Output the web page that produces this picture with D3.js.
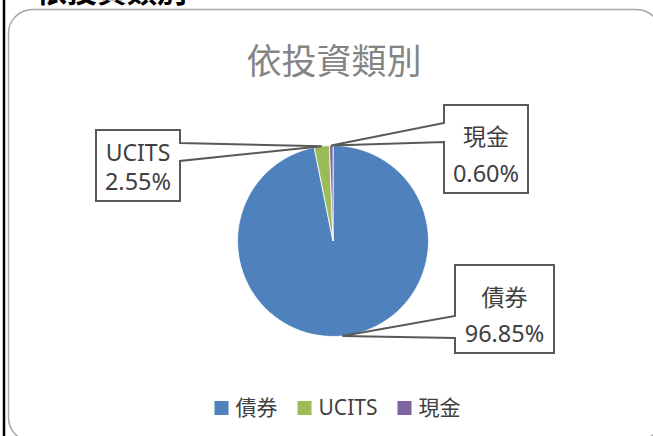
<!DOCTYPE html>
<html>
<head>
<meta charset="utf-8">
<script src="https://cdn.jsdelivr.net/npm/d3@7"></script>
<style>
  body { margin: 0; background: #fff; }
  svg { display: block; font-family: "Noto Sans", "Noto Sans CJK TC", sans-serif; }
</style>
</head>
<body>
<svg id="chart" width="653" height="436"></svg>
<script>
// Data
const categories = ["債券", "UCITS", "現金"];
const shares = [96.85, 2.55, 0.60];
const valueLabels = ["96.85%", "2.55%", "0.60%"];
const colors = ["#4F81BD", "#9BBB59", "#8064A2"];
const chartTitle = "依投資類別";

const svg = d3.select("#chart");
const width = 653, height = 436;
const cx = 333, cy = 241, radius = 95.5;

// left page border + cut-off heading above the chart
svg.append("line")
  .attr("x1", 4).attr("x2", 4).attr("y1", 0).attr("y2", height)
  .attr("stroke", "#000").attr("stroke-width", 2.5);
svg.append("text")
  .attr("x", 37).attr("y", 2)
  .attr("font-size", 30).attr("font-weight", "bold")
  .attr("fill", "#000")
  .text(chartTitle);

// chart area
svg.append("rect")
  .attr("x", 8.5).attr("y", 9.5)
  .attr("width", 652).attr("height", 432)
  .attr("rx", 24)
  .attr("fill", "#fff")
  .attr("stroke", "#a6a6a6").attr("stroke-width", 1.5);

svg.append("text")
  .attr("x", 334).attr("y", 74)
  .attr("text-anchor", "middle")
  .attr("font-size", 35)
  .attr("fill", "#848484")
  .text(chartTitle);

// pie
const data = categories.map((c, i) => ({ name: c, value: shares[i], label: valueLabels[i], color: colors[i] }));
const pie = d3.pie().sort(null).value(d => d.value);
const arcs = pie(data);
const arc = d3.arc().innerRadius(0).outerRadius(radius);

const g = svg.append("g").attr("transform", `translate(${cx},${cy})`);
g.selectAll("path")
  .data(arcs)
  .enter()
  .append("path")
  .attr("d", arc)
  .attr("fill", d => d.data.color)
  .attr("stroke", "#fff")
  .attr("stroke-width", 0.8);

// callout label boxes (layout only)
const boxes = {
  "債券": { x0: 455, y0: 265, x1: 554, y1: 353, side: "left", p1: 316, p2: 338, nameY: 306 },
  "UCITS": { x0: 96, y0: 130, x1: 180, y1: 201, side: "right", p1: 143, p2: 161, nameY: 161 },
  "現金": { x0: 444, y0: 105, x1: 528, y1: 193, side: "left", p1: 123, p2: 142, nameY: 145 }
};

const tipArc = d3.arc().innerRadius(radius).outerRadius(radius);

arcs.forEach(a => {
  const b = boxes[a.data.name];
  const [tx, ty] = tipArc.centroid(a);
  const tipX = cx + tx, tipY = cy + ty;
  let p;
  if (b.side === "right") {
    p = `M${b.x0},${b.y0}H${b.x1}V${b.p1}L${tipX},${tipY}L${b.x1},${b.p2}V${b.y1}H${b.x0}Z`;
  } else {
    p = `M${b.x0},${b.y0}H${b.x1}V${b.y1}H${b.x0}V${b.p2}L${tipX},${tipY}L${b.x0},${b.p1}Z`;
  }
  svg.append("path")
    .attr("d", p)
    .attr("fill", "#fff")
    .attr("stroke", "#595959")
    .attr("stroke-width", 2)
    .attr("stroke-linejoin", "miter");
  const mx = (b.x0 + b.x1) / 2;
  svg.append("text")
    .attr("x", mx).attr("y", b.nameY)
    .attr("text-anchor", "middle")
    .attr("font-size", 23)
    .attr("fill", "#404040")
    .text(a.data.name);
  svg.append("text")
    .attr("x", mx).attr("y", b.y1 - 11)
    .attr("text-anchor", "middle")
    .attr("font-size", 23.5)
    .attr("fill", "#404040")
    .text(a.data.label);
});

// legend
const legend = svg.append("g");
let lx = 0;
data.forEach(d => {
  const item = legend.append("g").attr("transform", `translate(${lx},0)`);
  item.append("rect")
    .attr("x", 0).attr("y", -14)
    .attr("width", 14).attr("height", 14)
    .attr("fill", d.color);
  const t = item.append("text")
    .attr("x", 21).attr("y", 0)
    .attr("font-size", 21)
    .attr("fill", "#404040")
    .text(d.name);
  lx += 21 + t.node().getComputedTextLength() + 20;
});
const legendW = lx - 20;
legend.attr("transform", `translate(${337.5 - legendW / 2},415)`);
</script>
</body>
</html>
